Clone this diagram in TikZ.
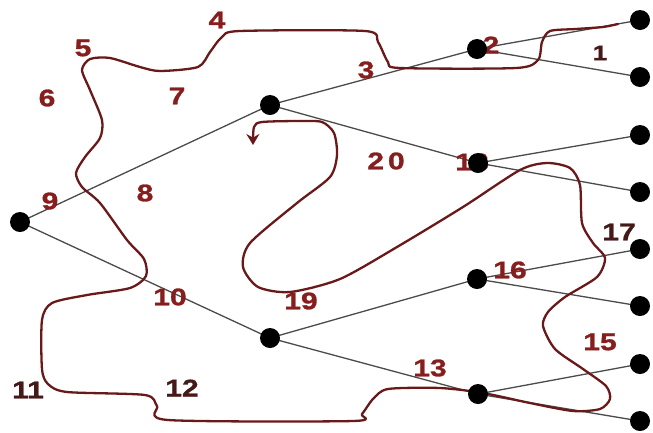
\documentclass[tikz,border=0pt]{standalone}
\usepackage{fontspec}
\setmainfont{Liberation Sans}
\newfontfamily\labfont[FakeStretch=1.25,FakeBold=1.2]{Liberation Sans Bold}
\usetikzlibrary{arrows.meta,backgrounds}
\definecolor{tourred}{RGB}{105,25,25}
\definecolor{labred}{RGB}{135,30,30}
\definecolor{labdark}{RGB}{70,25,25}
\definecolor{edgegray}{RGB}{75,75,75}
\tikzset{
  dot/.style={circle,fill=black,inner sep=0pt,minimum width=20pt,minimum height=17pt},
  edge/.style={draw=edgegray,line width=1.3pt},
  tour/.style={draw=tourred,line width=2.3pt,line cap=round,line join=round},
  lab/.style={text=labred,font=\labfont\fontsize{24}{24}\selectfont,inner sep=0pt},
  labd/.style={lab,text=labdark},
}
\begin{document}
\begin{tikzpicture}[x=1pt,y=-1pt]
\useasboundingbox (0,0) rectangle (653,432);
% tree nodes
\node[dot] (r) at (20,222) {};
\node[dot] (a) at (270,105) {};
\node[dot] (b) at (270,338) {};
\node[dot] (a1) at (477,49) {};
\node[dot] (a2) at (478,163) {};
\node[dot] (b1) at (477,279) {};
\node[dot] (b2) at (478,394) {};
\node[dot] (l1) at (640,20) {};
\node[dot] (l2) at (640,77) {};
\node[dot] (l3) at (640,135) {};
\node[dot] (l4) at (640,192) {};
\node[dot] (l5) at (640,249) {};
\node[dot] (l6) at (640,306) {};
\node[dot] (l7) at (640,364) {};
\node[dot] (l8) at (640,421) {};
\begin{scope}[on background layer]
\draw[edge] (r.center) -- (a.center);
\draw[edge] (r.center) -- (b.center);
\draw[edge] (a.center) -- (a1.center);
\draw[edge] (a.center) -- (a2.center);
\draw[edge] (b.center) -- (b1.center);
\draw[edge] (b.center) -- (b2.center);
\draw[edge] (a1.center) -- (l1.center);
\draw[edge] (a1.center) -- (l2.center);
\draw[edge] (a2.center) -- (l3.center);
\draw[edge] (a2.center) -- (l4.center);
\draw[edge] (b1.center) -- (l5.center);
\draw[edge] (b1.center) -- (l6.center);
\draw[edge] (b2.center) -- (l7.center);
\draw[edge] (b2.center) -- (l8.center);
% Euler tour curve
\draw[tour,-{Stealth[length=11pt,width=13pt]}] plot[smooth,tension=0.45] coordinates {
(618,24) (603,27) (576,29) (550,31) (542,42) (538,60) (516,68) (400,68) (388,62)
(378,42) (365,31) (240,31) (222,37) (210,52) (198,67) (160,71) (140,67) (110,58)
(90,59) (82,70) (90,90) (102,120) (100,138) (85,157) (76,173) (82,187) (100,203)
(127,240) (144,259) (146,276) (130,288) (87,295) (52,303) (42,320) (42,369)
(48,384) (67,392) (145,395) (157,406) (168,420) (353,421) (362,414) (373,399)
(388,389) (440,388) (483,393) (530,403) (573,411) (600,409) (610,399) (606,386)
(583,369) (555,349) (543,326) (548,312) (565,297) (597,277) (605,258) (593,243)
(582,223) (580,185) (570,168) (547,163) (520,170) (463,207) (397,247) (340,279)
(290,292) (258,287) (243,267) (250,243) (297,203) (330,177) (337,155) (334,133)
(322,122) (300,121) (262,122) (254,127) (253,145)};
% labels
\node[labd,font=\labfont\fontsize{21}{21}\selectfont] at (600,53) {1};
\node[lab] at (491,45) {2};
\node[lab] at (366,70) {3};
\node[lab] at (217,20) {4};
\node[lab] at (83,48) {5};
\node[lab] at (47,98) {6};
\node[lab] at (177,96) {7};
\node[lab] at (145,193) {8};
\node[lab] at (50,201) {9};
\node[lab] at (170,297) {10};
\node[labd] at (28,390) {11};
\node[labd] at (182,388) {12};
\node[lab] at (430,368) {13};
\node[lab] at (600,342) {15};
\node[lab] at (510,270) {16};
\node[labd] at (619,232) {17};
\node[lab] at (472,162) {18};
\node[lab] at (301,301) {19};
\node[lab] at (386,161) {2\,0};
\end{scope}
\end{tikzpicture}
\end{document}
